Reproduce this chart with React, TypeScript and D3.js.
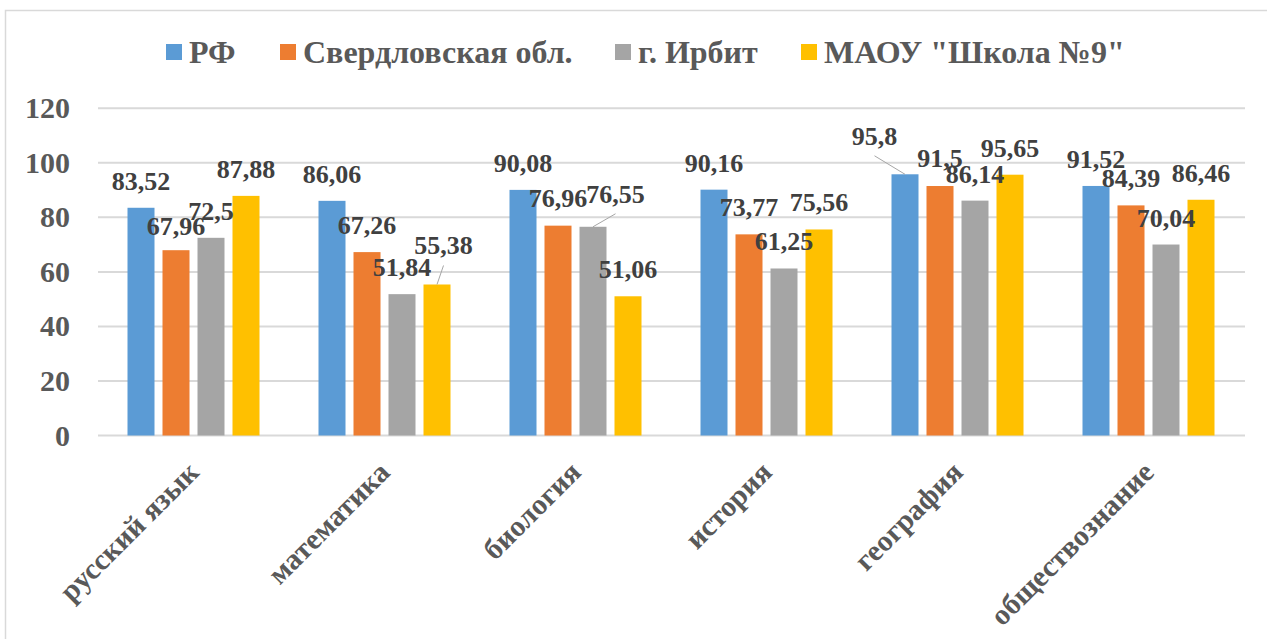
import React from 'react';
import * as d3 from 'd3';

const categories = ['русский язык', 'математика', 'биология', 'история', 'география', 'обществознание'];
const seriesNames = ['РФ', 'Свердловская обл.', 'г. Ирбит', 'МАОУ "Школа №9"'];
const rf = [83.52, 86.06, 90.08, 90.16, 95.8, 91.52];
const sverdl = [67.96, 67.26, 76.96, 73.77, 91.5, 84.39];
const irbit = [72.5, 51.84, 76.55, 61.25, 86.14, 70.04];
const school = [87.88, 55.38, 51.06, 75.56, 95.65, 86.46];
const yTicks = [0, 20, 40, 60, 80, 100, 120];
const colors = ['#5B9BD5', '#ED7D31', '#A5A5A5', '#FFC000'];

// labels that were dragged away from their default spot: [series, category, dx, dy, leader line]
const movedLabels = [
    [1, 0, 0, -15.5, false],
    [3, 1, 6.5, -30, true],
    [2, 2, 22.5, -24, true],
    [1, 2, 0, -19, false],
    [0, 4, -30.5, -29.5, true],
    [1, 4, 0, -19.5, false],
];

const W = 1267, H = 639;
const font = { fontFamily: 'Liberation Serif', fontWeight: 'bold' };

const App = () => {
    document.body.style.margin = '0';
    const values = [rf, sverdl, irbit, school];
    const x = d3.scaleBand().domain(categories).range([98, 1244]);
    const xs = d3.scaleBand().domain(d3.range(4)).range([29.5, 161.5]).paddingInner(8 / 35);
    const y = d3.scaleLinear().domain([0, 120]).range([435.5, 108.3]);
    const fmt = v => String(v).replace('.', ',');
    const legendX = [166, 280, 615, 801];

    return (
        <svg width={W} height={H} style={{ display: 'block' }}>
            <rect x={5.5} y={10.5} width={1300} height={700} fill="white" stroke="#d9d9d9" strokeWidth={1.5} />

            {yTicks.map(t => (
                <g key={t}>
                    <line x1={98} x2={1245} y1={y(t)} y2={y(t)} stroke="#d9d9d9" strokeWidth={2} />
                    <text x={70} y={y(t) + 10} textAnchor="end" fontSize={30} fill="#595959" style={font}>{t}</text>
                </g>
            ))}

            {values.map((vals, s) => vals.map((v, i) => (
                <rect key={`b${s}-${i}`} x={x(categories[i]) + xs(s)} y={y(v)}
                    width={xs.bandwidth()} height={y(0) - y(v)} fill={colors[s]} />
            )))}

            {values.map((vals, s) => vals.map((v, i) => {
                const moved = movedLabels.find(m => m[0] === s && m[1] === i);
                const dx = moved ? moved[2] : 0;
                const dy = moved ? moved[3] : -18;
                const cx = x(categories[i]) + xs(s) + xs.bandwidth() / 2;
                const lx = cx + dx, ly = y(v) + dy;
                return (
                    <g key={`l${s}-${i}`}>
                        {moved && moved[4] && (
                            <line x1={cx} y1={y(v)} x2={lx} y2={ly + 11} stroke="#a6a6a6" strokeWidth={1} />
                        )}
                        <text x={lx} y={ly} textAnchor="middle" fontSize={26} fill="#404040" style={font}>{fmt(v)}</text>
                    </g>
                );
            }))}

            {categories.map(c => (
                <text key={c} transform={`translate(${x(c) + x.bandwidth() / 2 + 7}, 474) rotate(-45)`}
                    textAnchor="end" fontSize={29.5} fill="#595959" style={font}>{c}</text>
            ))}

            {seriesNames.map((name, s) => (
                <g key={name}>
                    <rect x={legendX[s]} y={44} width={16} height={16} fill={colors[s]} />
                    <text x={legendX[s] + 23} y={63} fontSize={32} fill="#595959" style={font}>{name}</text>
                </g>
            ))}
        </svg>
    );
};

export default App;
